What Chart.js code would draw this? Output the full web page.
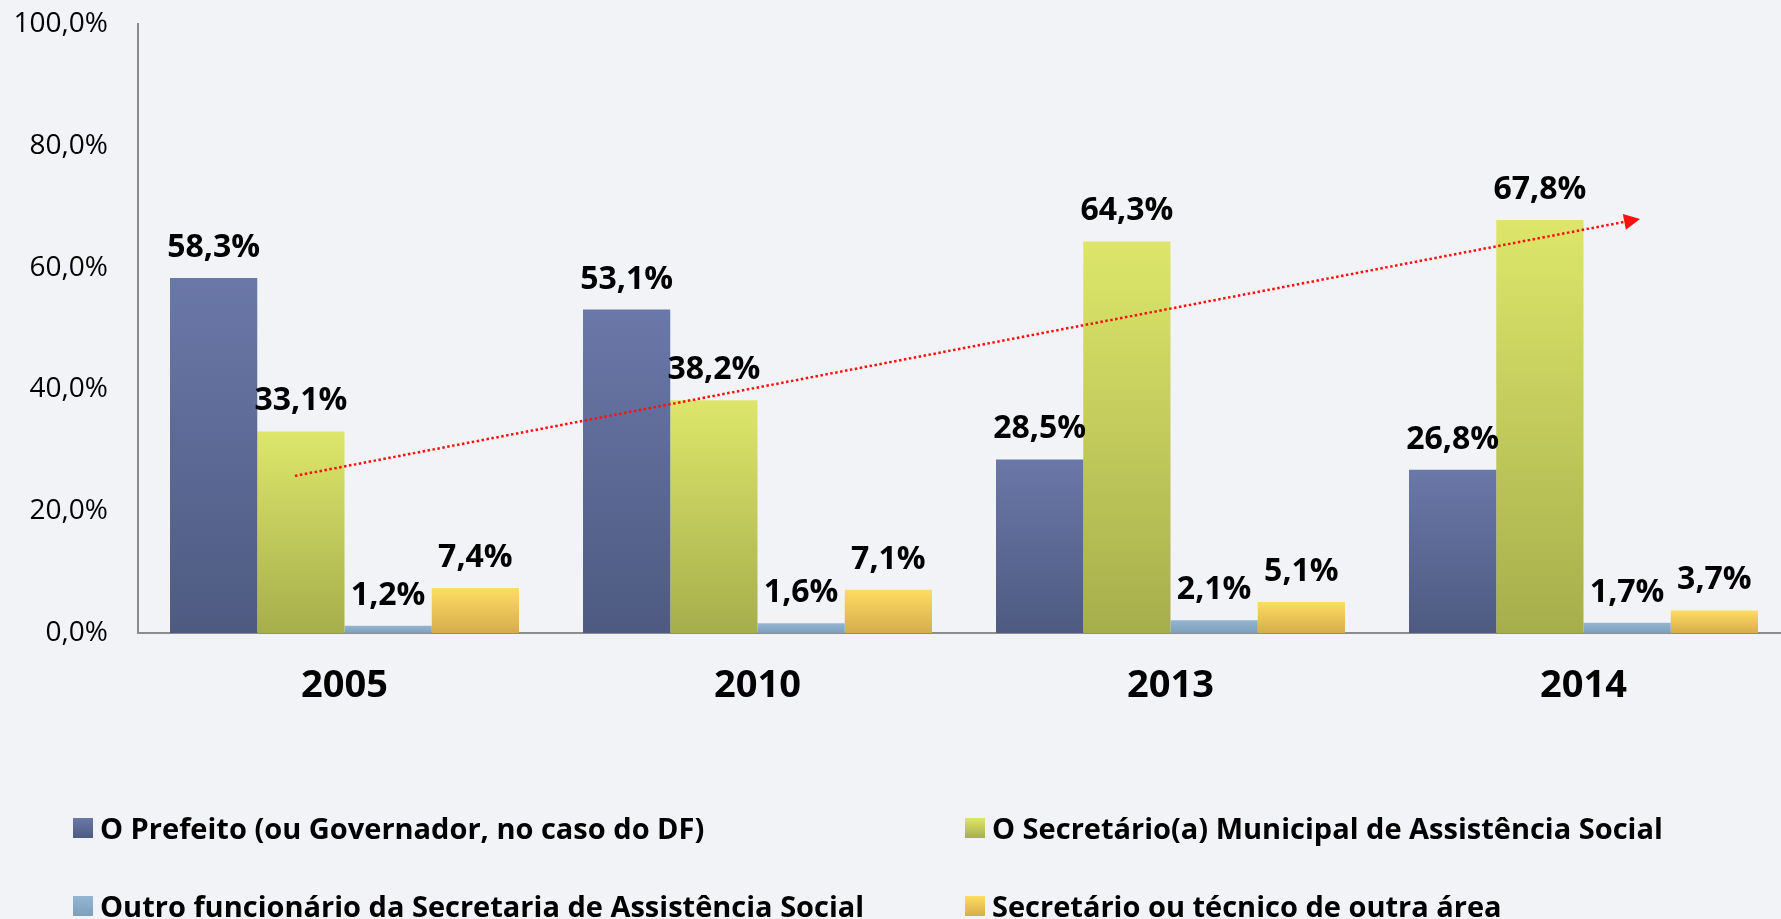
<!DOCTYPE html>
<html lang="pt-BR">
<head>
<meta charset="utf-8">
<title>Responsável pela gestão</title>
<script src="https://cdn.jsdelivr.net/npm/chart.js@4.4.1/dist/chart.umd.min.js"></script>
<style>
  html, body { margin: 0; padding: 0; background: #f2f3f6; overflow: hidden; }
  #quadro { position: relative; width: 1781px; height: 919px; }
  #grafico { position: absolute; left: 0; top: 0; }
  .legenda-item {
    position: absolute; display: flex; align-items: center;
    font-family: 'Open Sans'; font-weight: 700; font-size: 29px; line-height: 34px;
    color: #000; white-space: nowrap;
  }
  .legenda-caixa { width: 20px; height: 20px; margin-right: 7px; }
</style>
</head>
<body>
<div id="quadro">
  <canvas id="grafico" width="1800" height="919"></canvas>
  <div id="legenda"></div>
</div>
<script>
// Dados do gráfico
const categorias = ['2005', '2010', '2013', '2014'];
const prefeito = [58.3, 53.1, 28.5, 26.8];
const secretarioMunicipal = [33.1, 38.2, 64.3, 67.8];
const outroFuncionario = [1.2, 1.6, 2.1, 1.7];
const outraArea = [7.4, 7.1, 5.1, 3.7];
const nomesSeries = [
  'O Prefeito (ou Governador, no caso do DF)',
  'O Secretário(a) Municipal de Assistência Social',
  'Outro funcionário da Secretaria de Assistência Social',
  'Secretário ou técnico de outra área'
];

// Seta de tendência (posição em categoria, valor em %)
const tendenciaX = [-0.12, 3.137];
const tendenciaY = [25.8, 68.0];

// Cores: topo e base do degradê de cada série
const coresTopo = ['#6a78a9', '#dde66a', '#93b6d2', '#ffdc62'];
const coresBase = ['#4e5a80', '#a6ae4c', '#7f9fbb', '#d5ad4d'];

function formatar(v) {
  return v.toFixed(1).replace('.', ',') + '%';
}

// Degradê vertical em cada barra
function degrade(i) {
  return function (context) {
    var chart = context.chart;
    if (!chart.chartArea || context.type !== 'data') return coresTopo[i];
    var y = chart.scales.y;
    var topo = y.getPixelForValue(context.parsed.y);
    var base = y.getPixelForValue(0);
    if (!isFinite(topo) || base - topo < 1) return coresTopo[i];
    var g = chart.ctx.createLinearGradient(0, topo, 0, base);
    g.addColorStop(0, coresTopo[i]);
    g.addColorStop(1, coresBase[i]);
    return g;
  };
}

// Rótulos de valor acima das barras
const rotulosPlugin = {
  id: 'rotulos',
  afterDatasetsDraw(chart) {
    var ctx = chart.ctx;
    ctx.save();
    ctx.font = 'bold 32px "Open Sans"';
    ctx.fillStyle = '#000';
    ctx.textAlign = 'center';
    ctx.textBaseline = 'alphabetic';
    chart.data.datasets.forEach(function (ds, i) {
      chart.getDatasetMeta(i).data.forEach(function (barra, j) {
        ctx.fillText(formatar(ds.data[j]), barra.x, barra.y - 21);
      });
    });
    ctx.restore();
  }
};

// Seta pontilhada vermelha
const setaPlugin = {
  id: 'seta',
  afterDatasetsDraw(chart) {
    var ctx = chart.ctx;
    var x0 = chart.scales.x.getPixelForValue(tendenciaX[0]);
    var y0 = chart.scales.y.getPixelForValue(tendenciaY[0]);
    var x1 = chart.scales.x.getPixelForValue(tendenciaX[1]);
    var y1 = chart.scales.y.getPixelForValue(tendenciaY[1]);
    var ang = Math.atan2(y1 - y0, x1 - x0);
    var comp = 16, meia = 8;
    var bx = x1 - comp * Math.cos(ang);
    var by = y1 - comp * Math.sin(ang);

    ctx.save();
    ctx.strokeStyle = '#ff1010';
    ctx.lineWidth = 2.5;
    ctx.setLineDash([2.5, 2.5]);
    ctx.beginPath();
    ctx.moveTo(x0, y0);
    ctx.lineTo(bx, by);
    ctx.stroke();

    ctx.setLineDash([]);
    ctx.fillStyle = '#ff1010';
    ctx.beginPath();
    ctx.moveTo(x1, y1);
    ctx.lineTo(bx + meia * Math.sin(ang), by - meia * Math.cos(ang));
    ctx.lineTo(bx - meia * Math.sin(ang), by + meia * Math.cos(ang));
    ctx.closePath();
    ctx.fill();
    ctx.restore();
  }
};

var series = [prefeito, secretarioMunicipal, outroFuncionario, outraArea];

var datasets = series.map(function (valores, i) {
  return {
    label: nomesSeries[i],
    data: valores,
    backgroundColor: degrade(i),
    borderWidth: 0,
    barPercentage: 1,
    categoryPercentage: 0.845
  };
});

var ctxGrafico = document.getElementById('grafico').getContext('2d');
new Chart(ctxGrafico, {
  type: 'bar',
  data: { labels: categorias, datasets: datasets },
  options: {
    responsive: false,
    animation: false,
    layout: { padding: { top: 24, right: 10, bottom: 0, left: 0 } },
    plugins: {
      legend: { display: false },
      tooltip: { enabled: false }
    },
    scales: {
      x: {
        grid: { display: false, drawTicks: false },
        border: { display: true, color: '#8c8c8c', width: 2 },
        ticks: {
          color: '#000',
          padding: 30,
          font: { family: 'Open Sans', size: 38, weight: 'bold' }
        },
        afterFit: function (scale) { scale.height = 286; }
      },
      y: {
        min: 0,
        max: 100,
        grid: { display: false, drawTicks: false },
        border: { display: true, color: '#8c8c8c', width: 2 },
        ticks: {
          stepSize: 20,
          color: '#000',
          padding: 30,
          font: { family: 'Open Sans', size: 28 },
          callback: function (v) { return formatar(v); }
        },
        afterFit: function (scale) {
          scale.width = 138;
          scale.paddingTop = 0;
          scale.paddingBottom = 0;
        }
      }
    }
  },
  plugins: [rotulosPlugin, setaPlugin]
});

// Legenda em duas colunas
var posLegenda = [[73, 811], [965, 811], [73, 889], [965, 889]];
var legenda = document.getElementById('legenda');
nomesSeries.forEach(function (nome, i) {
  var item = document.createElement('div');
  item.className = 'legenda-item';
  item.style.left = posLegenda[i][0] + 'px';
  item.style.top = posLegenda[i][1] + 'px';

  var caixa = document.createElement('span');
  caixa.className = 'legenda-caixa';
  caixa.style.background = 'linear-gradient(' + coresTopo[i] + ', ' + coresBase[i] + ')';

  var texto = document.createElement('span');
  texto.textContent = nome;

  item.appendChild(caixa);
  item.appendChild(texto);
  legenda.appendChild(item);
});
</script>
</body>
</html>
